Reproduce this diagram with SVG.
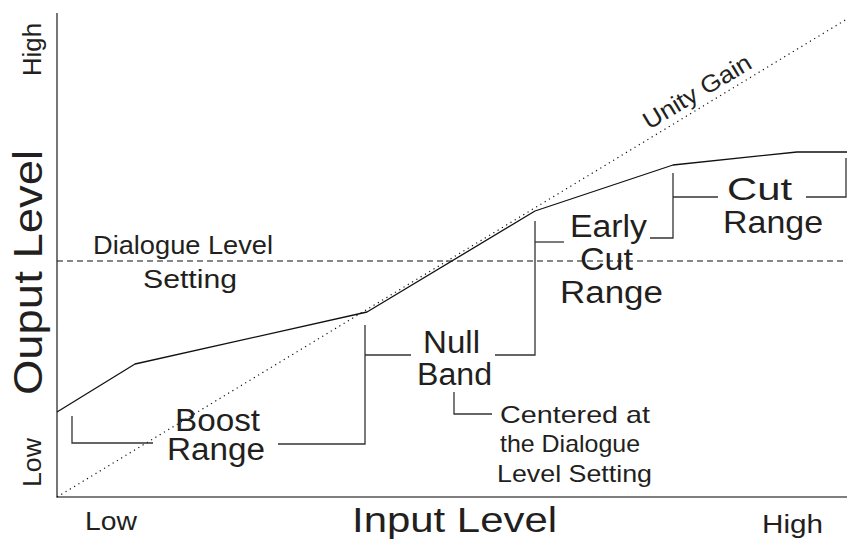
<svg xmlns="http://www.w3.org/2000/svg" width="847" height="540" viewBox="0 0 847 540">
<style>
text{font-family:"Liberation Sans",Arial,sans-serif;fill:#231f20}
.ax{stroke:#555;stroke-width:1.6;fill:none}
.br{stroke:#333;stroke-width:1.3;fill:none}
.cv{stroke:#111;stroke-width:1.3;fill:none;stroke-linejoin:round}
.dash{stroke:#111;stroke-width:1.1;stroke-dasharray:6 4;fill:none}
.dot{stroke:#111;stroke-width:1.2;stroke-dasharray:1.2 3.8;fill:none}
</style>
<rect width="847" height="540" fill="#fff"/>
<g id="axes">
<path class="ax" d="M57,13 V497 H847"/>
</g>
<g id="connectors">
<path class="dot" d="M57,497 L847,19"/>
<path class="dash" d="M57,261 H847"/>
<path class="cv" d="M57,412 L135,364 L367,312 L535,211 L673,165 L797,152 L847,152"/>
<path class="br" d="M72,416 V443 H153"/>
<path class="br" d="M278,444 H365 V325"/>
<path class="br" d="M365,355 H411"/>
<path class="br" d="M495,355 H535 V221"/>
<path class="br" d="M535,242 H564"/>
<path class="br" d="M454,392 V414 H492"/>
<path class="br" d="M650,238 H673 V173"/>
<path class="br" d="M673,197 H718"/>
<path class="br" d="M806,197 H846 V158"/>
</g>
<g id="axis-labels">
<text font-size="25" transform="translate(41,76) rotate(-90)" textLength="53" lengthAdjust="spacingAndGlyphs">High</text>
<text font-size="25" transform="translate(41,487) rotate(-90)" textLength="49" lengthAdjust="spacingAndGlyphs">Low</text>
<text font-size="40" transform="translate(42,395) rotate(-90)" textLength="245" lengthAdjust="spacingAndGlyphs">Ouput Level</text>
<text font-size="26" x="85" y="530" textLength="52" lengthAdjust="spacingAndGlyphs">Low</text>
<text font-size="25" x="762" y="533" textLength="61" lengthAdjust="spacingAndGlyphs">High</text>
<text font-size="35" x="352" y="532" textLength="205" lengthAdjust="spacingAndGlyphs">Input Level</text>
</g>
<g id="unity-gain">
<text font-size="24" transform="translate(649,130) rotate(-31)" textLength="122" lengthAdjust="spacingAndGlyphs">Unity Gain</text>
</g>
<g id="dialogue-level">
<text font-size="26" x="93" y="254" textLength="180" lengthAdjust="spacingAndGlyphs">Dialogue Level</text>
<text font-size="26" x="143" y="288" textLength="94" lengthAdjust="spacingAndGlyphs">Setting</text>
</g>
<g id="boost-range">
<text font-size="31" x="175" y="431" textLength="85" lengthAdjust="spacingAndGlyphs">Boost</text>
<text font-size="31" x="167" y="460" textLength="98" lengthAdjust="spacingAndGlyphs">Range</text>
</g>
<g id="null-band">
<text font-size="31" x="423" y="353" textLength="57" lengthAdjust="spacingAndGlyphs">Null</text>
<text font-size="31" x="417" y="385" textLength="75" lengthAdjust="spacingAndGlyphs">Band</text>
</g>
<g id="early-cut-range">
<text font-size="31" x="570" y="237" textLength="77" lengthAdjust="spacingAndGlyphs">Early</text>
<text font-size="31" x="580" y="270" textLength="53" lengthAdjust="spacingAndGlyphs">Cut</text>
<text font-size="31" x="560" y="303" textLength="103" lengthAdjust="spacingAndGlyphs">Range</text>
</g>
<g id="cut-range">
<text font-size="32" x="727" y="200" textLength="65" lengthAdjust="spacingAndGlyphs">Cut</text>
<text font-size="32" x="723" y="233" textLength="100" lengthAdjust="spacingAndGlyphs">Range</text>
</g>
<g id="centered-note">
<text font-size="24" x="500" y="423" textLength="150" lengthAdjust="spacingAndGlyphs">Centered at</text>
<text font-size="24" x="500" y="452" textLength="140" lengthAdjust="spacingAndGlyphs">the Dialogue</text>
<text font-size="24" x="497" y="482" textLength="155" lengthAdjust="spacingAndGlyphs">Level Setting</text>
</g>
</svg>
